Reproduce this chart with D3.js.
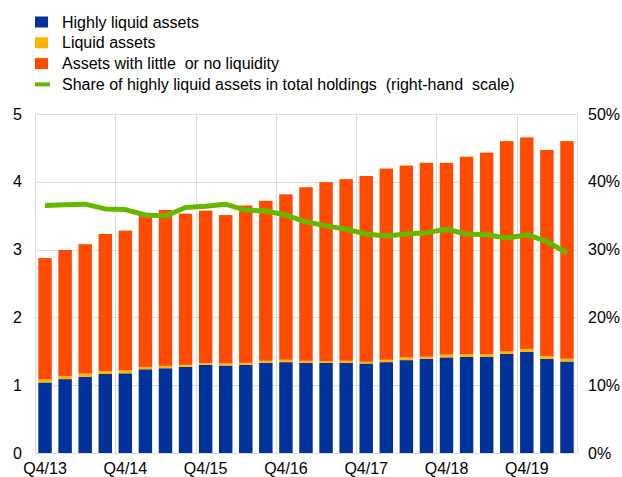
<!DOCTYPE html>
<html>
<head>
<meta charset="utf-8">
<script src="https://cdn.jsdelivr.net/npm/d3@7"></script>
<style>
  body { margin: 0; background: #fff; }
  svg { display: block; font-family: Arial, "Liberation Sans", sans-serif; }
</style>
</head>
<body>
<div id="chart"></div>
<script>
// ---- DATA ----
const quarters = [
  'Q4/13','Q1/14','Q2/14','Q3/14','Q4/14','Q1/15','Q2/15','Q3/15','Q4/15',
  'Q1/16','Q2/16','Q3/16','Q4/16','Q1/17','Q2/17','Q3/17','Q4/17',
  'Q1/18','Q2/18','Q3/18','Q4/18','Q1/19','Q2/19','Q3/19','Q4/19',
  'Q1/20','Q2/20'
];
const tickLabels = ['Q4/13','Q4/14','Q4/15','Q4/16','Q4/17','Q4/18','Q4/19'];

// EUR trillions
const highlyLiquid = [1.04,1.09,1.125,1.165,1.175,1.235,1.25,1.27,1.30,1.29,1.30,1.33,1.34,1.33,
  1.33,1.33,1.32,1.34,1.37,1.39,1.41,1.42,1.42,1.46,1.49,1.39,1.35];
const liquid = [0.045,0.045,0.045,0.045,0.045,0.035,0.035,0.03,0.025,0.03,0.03,0.03,0.035,0.03,
  0.025,0.03,0.025,0.035,0.04,0.03,0.04,0.04,0.04,0.04,0.045,0.04,0.04];
const illiquid = [1.79,1.86,1.91,2.02,2.06,2.23,2.30,2.23,2.25,2.19,2.32,2.36,2.44,2.56,
  2.64,2.68,2.74,2.82,2.83,2.86,2.83,2.91,2.97,3.10,3.12,3.04,3.21];
// percent, right-hand scale
const share = [36.5,36.6,36.7,36.0,35.9,35.1,34.95,36.2,36.4,36.7,35.8,35.7,35.1,34.1,
  33.5,33.0,32.3,32.0,32.3,32.5,33.0,32.3,32.2,31.7,32.2,31.2,29.5];

const leftTicks = [0,1,2,3,4,5];
const rightTicks = [0,10,20,30,40,50];

const seriesNames = ['Highly liquid assets','Liquid assets','Assets with little  or no liquidity'];
const lineName = 'Share of highly liquid assets in total holdings  (right-hand  scale)';
const colors = ['#003299','#ffb400','#ff4b00'];
const lineColor = '#65b800';

// ---- LAYOUT ----
const W = 622, H = 477;
const plot = { left: 35, right: 577, top: 114, bottom: 453 };

const svg = d3.select('#chart').append('svg')
  .attr('width', W).attr('height', H);

const x = d3.scaleBand()
  .domain(quarters)
  .range([plot.left, plot.right])
  .paddingInner(0.33)
  .paddingOuter(0.165);

const y = d3.scaleLinear().domain([0, 5]).range([plot.bottom, plot.top]);
const y2 = d3.scaleLinear().domain([0, 50]).range([plot.bottom, plot.top]);

// ---- GRID ----
const grid = svg.append('g').attr('stroke', '#dcdcdc').attr('stroke-width', 1);
grid.selectAll('.hgrid').data(leftTicks).join('line')
  .attr('x1', plot.left).attr('x2', plot.right)
  .attr('y1', d => Math.round(y(d)) + 0.5).attr('y2', d => Math.round(y(d)) + 0.5);

// vertical lines at the band boundary before each Q4
const vIdx = [0, 4, 8, 12, 16, 20, 24];
grid.selectAll('.vgrid').data(vIdx).join('line')
  .attr('x1', d => Math.round(plot.left + d * x.step()) + 0.5)
  .attr('x2', d => Math.round(plot.left + d * x.step()) + 0.5)
  .attr('y1', plot.top).attr('y2', plot.bottom);
grid.append('line')
  .attr('x1', plot.right + 0.5).attr('x2', plot.right + 0.5)
  .attr('y1', plot.top).attr('y2', plot.bottom);

// ---- BARS ----
const rows = quarters.map((q, i) => ({ q, a: highlyLiquid[i], b: liquid[i], c: illiquid[i] }));
const stacked = d3.stack().keys(['a','b','c'])(rows);

svg.append('g').selectAll('g').data(stacked).join('g')
  .attr('fill', (d, i) => colors[i])
  .selectAll('rect').data(d => d).join('rect')
  .attr('x', d => x(d.data.q))
  .attr('width', x.bandwidth())
  .attr('y', d => y(d[1]))
  .attr('height', d => y(d[0]) - y(d[1]));

// ---- LINE ----
const line = d3.line()
  .x((d, i) => x(quarters[i]) + x.bandwidth() / 2)
  .y(d => y2(d));

svg.append('path')
  .datum(share)
  .attr('d', line)
  .attr('fill', 'none')
  .attr('stroke', lineColor)
  .attr('stroke-width', 5)
  .attr('stroke-linejoin', 'round')
  .attr('stroke-linecap', 'butt');

// ---- AXES ----
const leftAxis = svg.append('g')
  .attr('transform', `translate(${plot.left - 13}, 0)`)
  .call(d3.axisLeft(y).tickValues(leftTicks).tickSize(0).tickPadding(0)
    .tickFormat(d3.format('d')));
leftAxis.select('.domain').remove();

const rightAxis = svg.append('g')
  .attr('transform', `translate(${plot.right + 11}, 0)`)
  .call(d3.axisRight(y2).tickValues(rightTicks).tickSize(0).tickPadding(0)
    .tickFormat(d => d + '%'));
rightAxis.select('.domain').remove();

const bottomAxis = svg.append('g')
  .attr('transform', `translate(0, ${plot.bottom})`)
  .call(d3.axisBottom(x).tickValues(tickLabels).tickSize(0).tickPadding(10));
bottomAxis.select('.domain').remove();

svg.selectAll('.tick text')
  .style('font-family', 'Arial, "Liberation Sans", sans-serif')
  .style('font-size', '16px')
  .style('fill', '#000');

// ---- LEGEND ----
const legend = svg.append('g');
const rowY = [22, 42.8, 63.6, 84.4];
seriesNames.forEach((name, i) => {
  legend.append('rect')
    .attr('x', 35).attr('y', rowY[i] - 5.5)
    .attr('width', 13).attr('height', 11)
    .attr('fill', colors[i]);
  legend.append('text')
    .attr('x', 62).attr('y', rowY[i] + 5.6)
    .style('font-size', '16px').style('white-space', 'pre')
    .attr('xml:space', 'preserve')
    .text(name);
});
legend.append('rect')
  .attr('x', 35).attr('y', rowY[3] - 2)
  .attr('width', 15).attr('height', 4)
  .attr('fill', lineColor);
legend.append('text')
  .attr('x', 62).attr('y', rowY[3] + 5.6)
  .style('font-size', '16px').style('white-space', 'pre')
  .attr('xml:space', 'preserve')
  .text(lineName);
</script>
</body>
</html>
